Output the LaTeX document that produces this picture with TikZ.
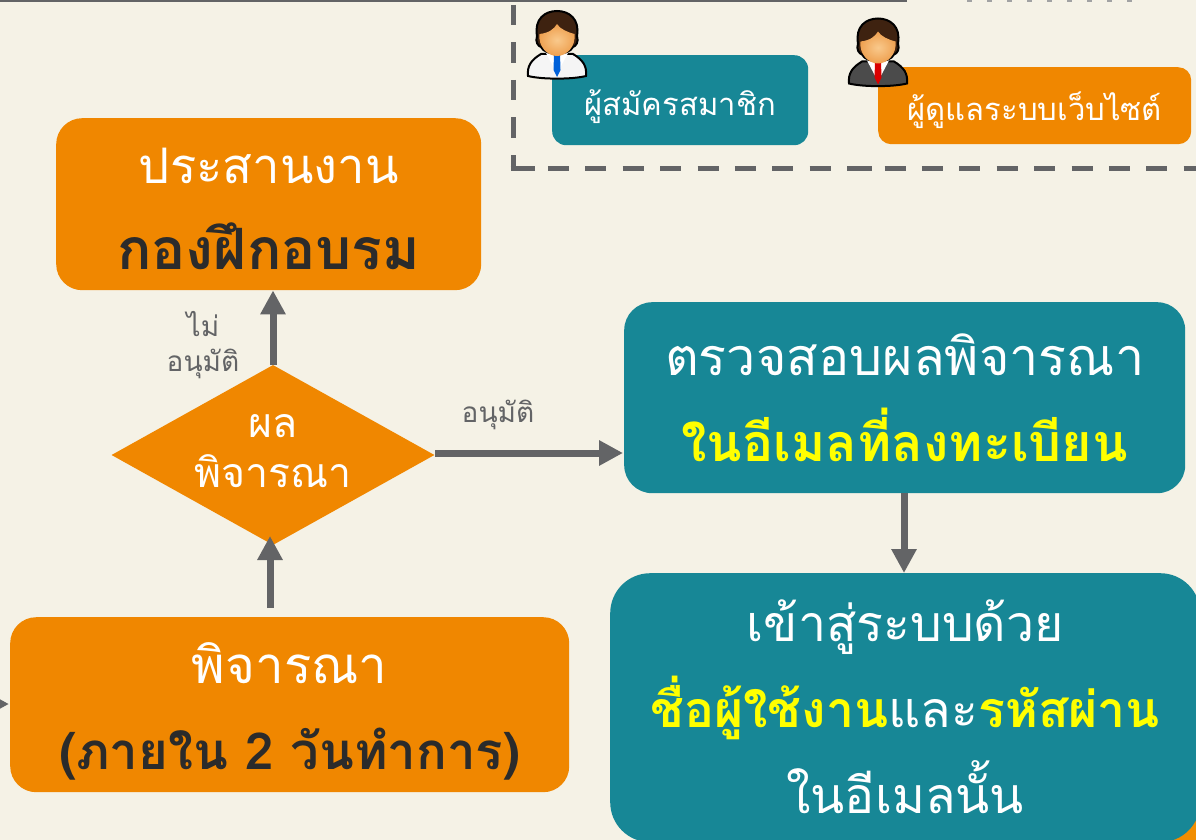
\documentclass[tikz,border=0pt]{standalone}
\usepackage{fontspec}
\usetikzlibrary{arrows.meta,shapes.geometric}
\setmainfont[Script=Thai]{Loma}
\definecolor{bgc}{HTML}{F5F2E6}
\definecolor{orangec}{HTML}{F08700}
\definecolor{tealc}{HTML}{178796}
\definecolor{grayc}{HTML}{636466}
\definecolor{darkc}{HTML}{2B2B2B}
\definecolor{yellowc}{HTML}{FFFF00}
\definecolor{skinc}{HTML}{F9C98C}
\definecolor{skind}{HTML}{EE9F4E}
\definecolor{hairc}{HTML}{3E2210}
\newcommand{\fs}[1]{\fontsize{#1}{86}\selectfont}
\newcommand{\personicon}[5]{%
\begin{scope}[shift={(#1,#2)}]
 \filldraw[draw=black,line width=2pt,fill=#3] (1,66) .. controls (0,56) and (4,50) .. (14,44) -- (46,44) .. controls (56,50) and (60,56) .. (59,66) .. controls (45,69.5) and (15,69.5) .. (1,66) -- cycle;
 \fill[#4] (19,43) -- (41,43) -- (31,62) -- (29,62) -- cycle;
 \fill[#5] (27,44) -- (33,44) -- (33.5,60) -- (30,67) -- (26.5,60) -- cycle;
 \filldraw[draw=black,line width=2pt,fill=hairc] (10,26) .. controls (7,9) and (18,1) .. (30,1) .. controls (42,1) and (53,9) .. (50,26) .. controls (52,32) and (49,36) .. (46,37) .. controls (42,46) and (18,46) .. (14,37) .. controls (11,36) and (8,32) .. (10,26) -- cycle;
 \shade[inner color=skinc,outer color=skind] (12.5,24) .. controls (22,23) and (27,19) .. (30,14) .. controls (33,19) and (40,22) .. (47.5,24) .. controls (49,36) and (40,46) .. (30,46) .. controls (20,46) and (11,36) .. (12.5,24) -- cycle;
\end{scope}}
\tikzset{
 x=1pt,y=-1pt,
 boxnode/.style={rounded corners=#1,inner sep=0pt,anchor=north west},
 box orange/.style={fill=orangec},
 box teal/.style={fill=tealc},
 boxtext/.style={text=white,align=center,inner sep=0pt},
 flow/.style={draw=grayc,line width=7pt,-{Triangle[length=24pt,width=24pt]}},
 smalllabel/.style={text=grayc,font=\fontsize{28}{35}\selectfont,align=center,inner sep=0pt},
 frameline/.style={draw=grayc,line width=5pt},
}
\begin{document}
\begin{tikzpicture}
\useasboundingbox (0,0) rectangle (1196,840);
\clip (0,0) rectangle (1196,840);
\fill[bgc] (0,0) rectangle (1196,840);
% top rules
\coordinate (ruleA) at (0,0.5);
\coordinate (ruleB) at (907,0.5);
\draw[grayc,line width=3pt] (ruleA) -- (ruleB);
\coordinate (dotA) at (967,0);
\coordinate (dotB) at (1146,0);
\draw[grayc!60,line width=5pt,dash pattern=on 5pt off 15pt] (dotA) -- (dotB);
\coordinate (frameA) at (513,5);
\coordinate (frameB) at (513,168);
\coordinate (frameD) at (510.5,168);
\coordinate (frameC) at (1196,168);
\draw[frameline,dash pattern=on 20.5pt off 17pt] (frameA) -- (frameB);
\draw[frameline,dash pattern=on 24.5pt off 12.9pt on 21pt off 16.4pt on 21pt off 16.4pt on 21pt off 16.4pt on 21pt off 16.4pt on 21pt off 16.4pt on 21pt off 16.4pt on 21pt off 16.4pt on 21pt off 16.4pt] (frameD) -- (frameC);
% small boxes
\node[boxnode=14pt,box teal,minimum width=256pt,minimum height=90pt] (member) at (552,55) {};
\node[boxtext,font=\fs{31}] (memberT) at ([yshift=-6pt]member.center) {ผู้สมัครสมาชิก};
\node[boxnode=13pt,box orange,minimum width=313pt,minimum height=77pt] (admin) at (878,67) {};
\node[boxtext,font=\fs{31}] (adminT) at ([yshift=-5pt]admin.center) {ผู้ดูแลระบบเว็บไซต์};
\personicon{527}{10}{white!92!gray}{white}{blue!55!cyan!85!black}
\personicon{848}{17.5}{darkc!85!white}{white}{red!85!black}
% main boxes
\node[boxnode=26pt,box orange,minimum width=425pt,minimum height=172pt] (coord) at (56,118) {};
\node[boxtext,font=\fs{49}] (coordT) at ([yshift=-4.5pt]coord.center) {ประสานงาน\\\textcolor{darkc}{\fs{57}\bfseries กองฝึกอบรม}};
\node[boxnode=26pt,box orange,minimum width=559pt,minimum height=175pt] (consider) at (10,617) {};
\node[boxtext,font=\fs{51}] (considerT) at ([yshift=-6.5pt]consider.center) {พิจารณา\\\textcolor{darkc}{\fs{51}\bfseries (ภายใน 2 วันทำการ)}};
\node[diamond,fill=orangec,minimum width=323pt,minimum height=180pt,inner sep=0pt] (result) at (273,455) {};
\node[boxtext,font=\fontsize{41}{50}\selectfont] (resultT) at ([yshift=4pt]result.center) {ผล\\พิจารณา};
\node[boxnode=28pt,box teal,minimum width=561pt,minimum height=191pt] (check) at (624,302) {};
\node[boxtext,font=\fs{52}] (checkT) at (check.center) {ตรวจสอบผลพิจารณา\\\textcolor{yellowc}{\fs{52}\bfseries ในอีเมลที่ลงทะเบียน}};
\fill[orangec!95!yellow] (1140,790) rectangle (1196,840);
\node[boxnode=40pt,box teal,minimum width=590pt,minimum height=269pt] (login) at (610,573) {};
\node[boxtext,font=\fs{50}] (loginT) at ([yshift=1pt]login.center) {เข้าสู่ระบบด้วย\\\textcolor{yellowc}{\bfseries ชื่อผู้ใช้งาน}และ\textcolor{yellowc}{\bfseries รหัสผ่าน}\\ในอีเมลนั้น};
% connectors
\draw[flow] (result.north) -- (result.north |- coord.south);
\coordinate (upB) at (270,608);
\coordinate (upC) at (270,536);
\draw[flow] (upB) -- (upC);
\coordinate (rA) at (435,453);
\coordinate (rB) at (623,453);
\draw[flow] (rA) -- (rB);
\coordinate (dA) at (904,493);
\coordinate (dB) at (904,573);
\draw[flow] (dA) -- (dB);
\coordinate (lA) at (-20,704);
\coordinate (lB) at (9,704);
\draw[flow] (lA) -- (lB);
% labels
\node[smalllabel] (no) at (203,345) {ไม่\\อนุมัติ};
\node[smalllabel] (yes) at (498,415) {อนุมัติ};
\end{tikzpicture}
\end{document}
